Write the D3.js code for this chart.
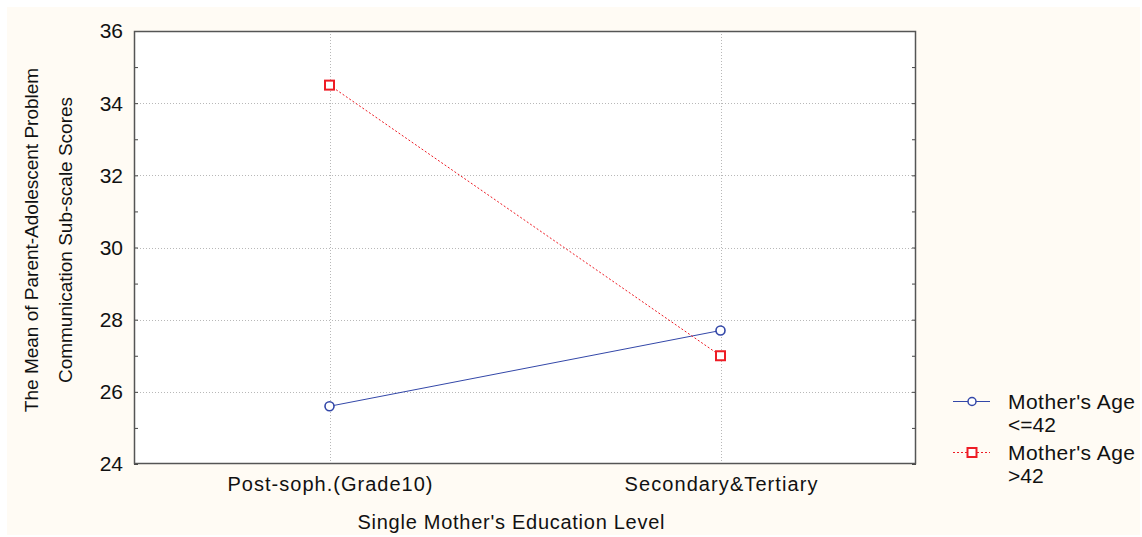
<!DOCTYPE html>
<html><head><meta charset="utf-8">
<script src="https://cdn.jsdelivr.net/npm/d3@7"></script>
<style>body{margin:0;background:#fff}svg{display:block}text{font-family:"Liberation Sans",Arial,sans-serif;fill:#111}</style>
</head><body>
<script>
const categories = ["Post-soph.(Grade10)", "Secondary&Tertiary"];
const seriesNames = [["Mother's Age", "<=42"], ["Mother's Age", ">42"]];
const youngerValues = [25.6, 27.7];
const olderValues = [34.5, 27.0];
const yTicks = [24, 26, 28, 30, 32, 34, 36];
const yMinorTicks = [25, 27, 29, 31, 33, 35];
const yTitle = ["The Mean of Parent-Adolescent Problem", "Communication Sub-scale Scores"];
const xTitle = "Single Mother's Education Level";

const W = 1142, H = 537;
const svg = d3.select("body").append("svg").attr("width", W).attr("height", H);
svg.append("rect").attr("x", 7).attr("y", 7).attr("width", 1133).attr("height", 528).attr("fill", "#fffbf4");

const L = 134, R = 916, T = 31, B = 464;
const x = d3.scalePoint().domain(categories).range([L, R]).padding(0.5);
const y = d3.scaleLinear().domain([24, 36]).range([B, T]);

svg.append("rect").attr("x", L).attr("y", T).attr("width", R - L).attr("height", B - T).attr("fill", "#fff");

// grid
const grid = svg.append("g").attr("stroke", "#b8b8b8").attr("stroke-width", 1).attr("stroke-dasharray", "1,2");
grid.selectAll("line.h").data(yTicks.filter(v => v > 24 && v < 36)).join("line")
  .attr("x1", L).attr("x2", R).attr("y1", d => Math.round(y(d)) + 0.5).attr("y2", d => Math.round(y(d)) + 0.5);
grid.selectAll("line.v").data(categories).join("line")
  .attr("y1", T).attr("y2", B).attr("x1", d => Math.round(x(d)) + 0.5).attr("x2", d => Math.round(x(d)) + 0.5);

// axes
const yAxisL = d3.axisRight(y).tickValues(yTicks.concat(yMinorTicks)).tickSize(4).tickFormat("");
const gL = svg.append("g").attr("transform", `translate(${L},0)`).call(yAxisL);
const yAxisR = d3.axisLeft(y).tickValues(yTicks.concat(yMinorTicks)).tickSize(4).tickFormat("");
const gR = svg.append("g").attr("transform", `translate(${R},0)`).call(yAxisR);
[gL, gR].forEach(g => { g.select(".domain").remove(); g.selectAll("line").attr("stroke", "#444"); });

const yLab = d3.axisLeft(y).tickValues(yTicks).tickSize(0).tickPadding(11).tickFormat(d3.format("d"));
const gY = svg.append("g").attr("transform", `translate(${L},0)`).call(yLab);
gY.select(".domain").remove();
gY.selectAll("text").attr("font-size", 21).attr("fill", "#111").attr("dy", "0.33em").style("font-family", "Liberation Sans, Arial");

const xLab = d3.axisBottom(x).tickSize(0).tickPadding(13);
const gX = svg.append("g").attr("transform", `translate(0,${B})`).call(xLab);
gX.select(".domain").remove();
gX.selectAll("text").attr("font-size", 20).attr("fill", "#111").style("font-family", "Liberation Sans, Arial")
  .attr("textLength", (d, i) => [205, 193][i]).attr("lengthAdjust", "spacing");

// frame
svg.append("rect").attr("x", L + 0.5).attr("y", T + 0.5).attr("width", R - L - 1).attr("height", B - T - 1)
  .attr("fill", "none").attr("stroke", "#555").attr("stroke-width", 1.5);

// titles
const yt = svg.append("text").attr("transform", `translate(38,240) rotate(-90)`).attr("text-anchor", "middle").attr("font-size", 19);
yt.append("tspan").attr("x", 0).attr("dy", 0).text(yTitle[0]);
yt.append("tspan").attr("x", 0).attr("dy", 34).text(yTitle[1]);
svg.append("text").attr("x", 511).attr("y", 529).attr("text-anchor", "middle").attr("font-size", 20)
  .attr("textLength", 307).attr("lengthAdjust", "spacing").text(xTitle);

// series
const blue = "#3347a8", red = "#ee1c25";
const line = d3.line().x((d, i) => x(categories[i])).y(d => y(d));
svg.append("path").datum(youngerValues).attr("d", line).attr("fill", "none").attr("stroke", blue).attr("stroke-width", 1);
svg.append("path").datum(olderValues).attr("d", line).attr("fill", "none").attr("stroke", red).attr("stroke-width", 1).attr("stroke-dasharray", "2,2");
svg.selectAll("circle.m").data(youngerValues).join("circle")
  .attr("cx", (d, i) => x(categories[i])).attr("cy", d => y(d)).attr("r", 4.5)
  .attr("fill", "#fff").attr("stroke", blue).attr("stroke-width", 1.6);
svg.selectAll("rect.m").data(olderValues).join("rect")
  .attr("x", (d, i) => x(categories[i]) - 4.5).attr("y", d => y(d) - 4.5).attr("width", 9).attr("height", 9)
  .attr("fill", "#fff").attr("stroke", red).attr("stroke-width", 2);

// legend
const leg = [{c: blue, dash: null, shape: "circle", y0: 401}, {c: red, dash: "2,2", shape: "rect", y0: 452}];
leg.forEach((l, i) => {
  const g = svg.append("g");
  g.append("line").attr("x1", 953).attr("x2", 990).attr("y1", l.y0 + 0.5).attr("y2", l.y0 + 0.5)
    .attr("stroke", l.c).attr("stroke-width", 1).attr("stroke-dasharray", l.dash);
  if (l.shape === "circle") g.append("circle").attr("cx", 972).attr("cy", l.y0 + 0.5).attr("r", 4).attr("fill", "#fff").attr("stroke", l.c).attr("stroke-width", 1.5);
  else g.append("rect").attr("x", 967.5).attr("y", l.y0 - 4).attr("width", 9).attr("height", 9).attr("fill", "#fff").attr("stroke", l.c).attr("stroke-width", 2);
  const t = g.append("text").attr("x", 1008).attr("y", l.y0 + 8).attr("font-size", 21);
  t.append("tspan").attr("x", 1008).attr("textLength", 127).attr("lengthAdjust", "spacing").text(seriesNames[i][0]);
  t.append("tspan").attr("x", 1008).attr("dy", 23).text(seriesNames[i][1]);
});
</script>
</body></html>
